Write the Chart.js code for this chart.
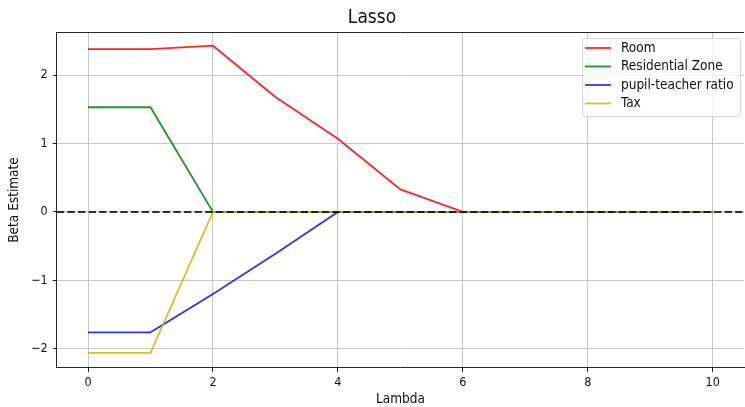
<!DOCTYPE html>
<html>
<head>
<meta charset="utf-8">
<script src="https://cdn.jsdelivr.net/npm/chart.js@4.4.1/dist/chart.umd.min.js"></script>
<style>
    html, body { margin: 0; padding: 0; background: #fff; }
    #wrap { width: 745px; height: 407px; }
</style>
</head>
<body>
<div id="wrap"><canvas id="lassoChart"></canvas></div>
<script>
// Lambda values on the x axis and the beta estimates.
const lambdas = [0, 1, 2, 3, 4, 5, 6, 7, 8, 9, 10];
const room = [2.38, 2.38, 2.43, 1.68, 1.07, 0.33, 0, 0, 0, 0, 0];
const residentialZone = [1.53, 1.53, 0, 0, 0, 0, 0, 0, 0, 0, 0];
const pupilTeacher = [-1.76, -1.76, -1.20, -0.61, 0, 0, 0, 0, 0, 0, 0];
const tax = [-2.06, -2.06, 0, 0, 0, 0, 0, 0, 0, 0, 0];

const xTicks = [0, 2, 4, 6, 8, 10];
const yTicks = [-2, -1, 0, 1, 2];

// the picture looks horizontally squeezed, so a condensed face fits best
const font = "'DejaVu Sans Condensed', 'DejaVu Sans', sans-serif";
const spineColor = "#262626";

const toPoints = (values) => values.map((v, i) => ({ x: lambdas[i], y: v }));

// Dashed zero line (axhline), drawn over the series.
const zeroLine = {
    id: "zeroLine",
    afterDatasetsDraw(chart) {
        const { ctx, chartArea, scales } = chart;
        const y = scales.y.getPixelForValue(0);
        ctx.save();
        ctx.strokeStyle = "rgba(0,0,0,0.8)";
        ctx.lineWidth = 2;
        ctx.setLineDash([7.4, 3.2]);
        ctx.beginPath();
        ctx.moveTo(chartArea.left, y);
        ctx.lineTo(chartArea.right, y);
        ctx.stroke();
        ctx.restore();
    }
};

// Top spine plus a matplotlib style legend box in the upper right corner.
const frameAndLegend = {
    id: "frameAndLegend",
    afterDraw(chart) {
        const { ctx, chartArea } = chart;
        ctx.save();
        ctx.strokeStyle = spineColor;
        ctx.lineWidth = 1;
        ctx.beginPath();
        ctx.moveTo(chartArea.left, chartArea.top + 0.5);
        ctx.lineTo(chartArea.right, chartArea.top + 0.5);
        ctx.stroke();

        const boxX = 582, boxY = 38, boxW = 158, boxH = 78;
        ctx.fillStyle = "rgba(255,255,255,0.8)";
        ctx.strokeStyle = "#d4d4d4";
        ctx.beginPath();
        ctx.roundRect(boxX + 0.5, boxY + 0.5, boxW, boxH, 3);
        ctx.fill();
        ctx.stroke();

        ctx.font = "13.5px " + font;
        ctx.textBaseline = "middle";
        const rows = [48, 66.5, 85, 103.5];
        chart.data.datasets.forEach((ds, i) => {
            const y = rows[i];
            ctx.strokeStyle = ds.borderColor;
            ctx.lineWidth = ds.borderWidth;
            ctx.beginPath();
            ctx.moveTo(585, y);
            ctx.lineTo(611, y);
            ctx.stroke();
            ctx.fillStyle = "#111";
            ctx.fillText(ds.label, 621, y);
        });
        ctx.restore();
    }
};

new Chart(document.getElementById("lassoChart"), {
    type: "line",
    data: {
        datasets: [
            { label: "Room", data: toPoints(room), borderColor: "rgba(255,0,0,0.85)", order: 4 },
            { label: "Residential Zone", data: toPoints(residentialZone), borderColor: "rgba(0,128,0,0.85)", order: 3 },
            { label: "pupil-teacher ratio", data: toPoints(pupilTeacher), borderColor: "rgba(0,0,255,0.8)", order: 2 },
            { label: "Tax", data: toPoints(tax), borderColor: "rgba(191,191,0,0.85)", order: 1 }
        ].map(ds => Object.assign(ds, { borderWidth: 1.8, pointRadius: 0, tension: 0, fill: false }))
    },
    options: {
        responsive: true,
        maintainAspectRatio: false,
        animation: false,
        layout: { padding: { left: 0, right: 1, top: 0, bottom: 0 } },
        plugins: {
            legend: { display: false },
            tooltip: { enabled: false },
            title: {
                display: true,
                text: "Lasso",
                color: "#111",
                font: { family: font, size: 19, weight: "normal" },
                padding: { top: 7, bottom: 2.2 }
            }
        },
        scales: {
            x: {
                type: "linear",
                min: -0.5,
                max: 10.5,
                afterBuildTicks: (scale) => { scale.ticks = xTicks.map(v => ({ value: v })); },
                grid: { color: "#c8c8c8", lineWidth: 1, tickColor: spineColor, tickLength: 4 },
                border: { color: spineColor, width: 1 },
                ticks: { color: "#111", padding: 3, maxRotation: 0, font: { family: font, size: 12.5 } },
                title: { display: true, text: "Lambda", color: "#111", font: { family: font, size: 13.5, lineHeight: 1.04 }, padding: { top: 0, bottom: 0 } }
            },
            y: {
                min: -2.28,
                max: 2.63,
                afterBuildTicks: (scale) => { scale.ticks = yTicks.map(v => ({ value: v })); },
                grid: { color: "#c8c8c8", lineWidth: 1, tickColor: spineColor, tickLength: 4 },
                border: { color: spineColor, width: 1 },
                ticks: {
                    color: "#111",
                    padding: 5,
                    font: { family: font, size: 12.5 },
                    callback: (v) => (v < 0 ? "\u2212" + Math.abs(v) : String(v))
                },
                title: { display: true, text: "Beta Estimate", color: "#111", font: { family: font, size: 13.5 }, padding: { top: 6, bottom: 4 } }
            }
        }
    },
    plugins: [zeroLine, frameAndLegend]
});
</script>
</body>
</html>
